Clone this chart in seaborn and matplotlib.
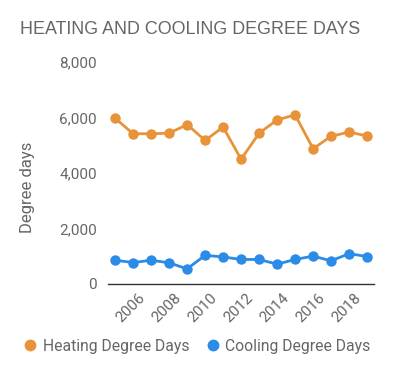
import matplotlib
matplotlib.use("Agg")
import matplotlib.pyplot as plt
import matplotlib.transforms as mtransforms
import seaborn as sns
import pandas as pd
from matplotlib.ticker import FuncFormatter
from matplotlib.lines import Line2D

years = list(range(2005, 2020))
heating = [5970, 5410, 5410, 5430, 5740, 5170, 5650, 4490, 5430, 5910, 6090, 4870, 5320, 5470, 5330]
cooling = [850, 770, 850, 760, 540, 1030, 970, 880, 880, 710, 880, 1000, 830, 1090, 985]
series_names = ["Heating Degree Days", "Cooling Degree Days"]
colors = ["#E8923A", "#2A8CE6"]
y_ticks = [0, 2000, 4000, 6000, 8000]
x_ticks = [2006, 2008, 2010, 2012, 2014, 2016, 2018]

df = pd.DataFrame({
    "year": years * 2,
    "value": heating + cooling,
    "series": [series_names[0]] * len(years) + [series_names[1]] * len(years),
})

sns.set_theme(style="white")
plt.rcParams["font.family"] = ["Roboto", "DejaVu Sans"]

fig = plt.figure(figsize=(3.93, 3.75), dpi=100)
ax = fig.add_axes([0.275, 0.243, 0.677, 0.592])

sns.lineplot(data=df, x="year", y="value", hue="series", palette=colors,
             marker="o", markersize=7.5, markeredgewidth=0, linewidth=2,
             legend=False, ax=ax)

ax.set_xlim(2004.61, 2019.39)
ax.set_ylim(0, 8000)
ax.set_yticks(y_ticks)
ax.set_xticks(x_ticks)
ax.yaxis.set_major_formatter(FuncFormatter(lambda v, p: f"{int(v):,}"))
ax.tick_params(axis="both", colors="#666666", labelsize=11, length=0)
ax.tick_params(axis="y", pad=8)
ax.tick_params(axis="x", pad=5)
ax.set_xticklabels([str(x) for x in x_ticks], rotation=45, ha="right", rotation_mode="anchor")
offset = mtransforms.ScaledTranslation(5 / 100, 0, fig.dpi_scale_trans)
for lbl in ax.get_xticklabels():
    lbl.set_transform(lbl.get_transform() + offset)
for s in ["top", "right", "left"]:
    ax.spines[s].set_visible(False)
ax.spines["bottom"].set_color("#333333")
ax.spines["bottom"].set_linewidth(1)
ax.set_xlabel("")
ax.set_ylabel("Degree days", color="#666666", fontsize=12)
ax.yaxis.set_label_coords(-0.275, 0.437)

fig.text(0.051, 0.92, "HEATING AND COOLING DEGREE DAYS", family="Liberation Sans",
         fontsize=12.9, color="#666666", ha="left", va="center")

handles = [Line2D([], [], marker="o", linestyle="", markersize=8.5, color=c, markeredgewidth=0)
           for c in colors]
fig.legend(handles, series_names, loc="center", bbox_to_anchor=(0.5, 0.077), ncol=2,
           frameon=False, fontsize=11.3, labelcolor="#666666", handletextpad=0.3,
           columnspacing=1.0, handlelength=1.0)

fig.savefig("out.png", dpi=100, facecolor="white")
